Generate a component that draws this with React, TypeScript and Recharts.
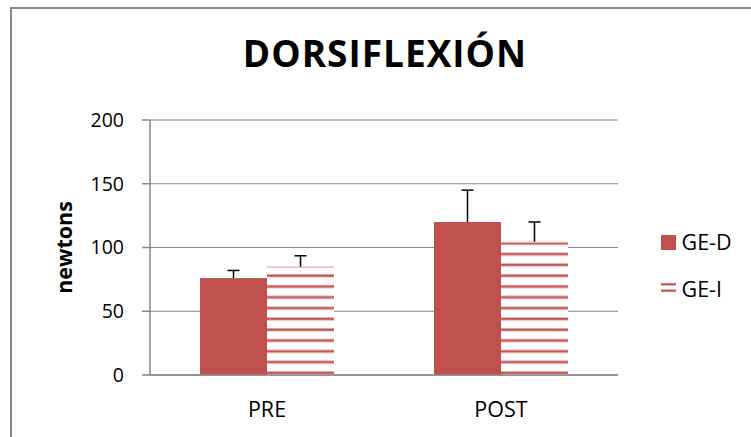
import React from 'react';
import { BarChart, Bar, XAxis, YAxis, CartesianGrid, Legend } from 'recharts';

const categories = ['PRE', 'POST'];
const geD = [76, 120];
const geI = [85, 104.5];
const geDErr = [6, 25];
const geIErr = [8.5, 15.5];
const yTicks = [0, 50, 100, 150, 200];
const seriesNames = ['GE-D', 'GE-I'];

const RED = '#C0504D';
const PALE = '#E6B5B4';
const GRAY = '#868686';
const FONT = "'Open Sans', sans-serif";

const data = categories.map((c, i) => ({
  cat: c,
  geD: geD[i],
  geI: geI[i],
  geDErr: geDErr[i],
  geIErr: geIErr[i],
}));

const makeShape = (fill: string, errKey: string, topEdge?: string) => (props: any) => {
  const { x, y, width, height, value, payload } = props;
  const v = Array.isArray(value) ? value[1] - value[0] : value;
  const ppu = v ? height / v : 0;
  const errTop = y - payload[errKey] * ppu;
  const cx = x + width / 2;
  return (
    <g>
      <rect x={x} y={y} width={width} height={height} fill={fill} />
      {topEdge ? <rect x={x} y={y} width={width} height={1.2} fill={topEdge} /> : null}
      <line x1={cx} x2={cx} y1={y} y2={errTop} stroke="#000" strokeWidth={1.5} />
      <line x1={cx - 6} x2={cx + 6} y1={errTop} y2={errTop} stroke="#000" strokeWidth={1.5} />
    </g>
  );
};

const LegendContent = () => (
  <svg width={100} height={80} style={{ display: 'block' }}>
    <rect x={11} y={10} width={15} height={15} fill={RED} />
    <text x={31.5} y={25} fontFamily={FONT} fontSize={21.5} fill="#000">{seriesNames[0]}</text>
    <rect x={11} y={57.8} width={15} height={3} fill={PALE} />
    <rect x={11} y={58.5} width={15} height={1.6} fill={RED} />
    <rect x={11} y={64.2} width={15} height={3} fill={PALE} />
    <rect x={11} y={64.9} width={15} height={1.6} fill={RED} />
    <text x={31.5} y={72.3} fontFamily={FONT} fontSize={21.5} fill="#000">{seriesNames[1]}</text>
  </svg>
);

export default function App() {
  return (
    <div style={{ position: 'absolute', left: 0, top: 0, width: 751, height: 437, overflow: 'hidden', background: '#fff' }}>
      <div style={{ position: 'absolute', left: 10, top: 7, width: 900, height: 600, border: `2px solid ${GRAY}` }} />
      <div
        style={{
          position: 'absolute', left: 0, top: 0, width: 770, textAlign: 'center',
          fontFamily: FONT, fontWeight: 700, fontSize: 37, lineHeight: '37px', paddingTop: 34,
          letterSpacing: 1, color: '#000',
        }}
      >
        DORSIFLEXIÓN
      </div>
      <div style={{ position: 'absolute', left: 0, top: 0 }}>
        <BarChart
          width={751}
          height={437}
          data={data}
          margin={{ top: 120, right: 33, bottom: 22, left: 90 }}
          barGap={0}
          barSize={67}
        >
          <defs>
            <pattern id="hatch" patternUnits="userSpaceOnUse" x={0} y={0} width={10} height={10.8}>
              <rect x={0} y={0} width={10} height={10.8} fill="#fff" />
              <rect x={0} y={3.9} width={10} height={3.6} fill={PALE} />
              <rect x={0} y={4.8} width={10} height={1.8} fill={RED} />
            </pattern>
          </defs>
          <CartesianGrid vertical={false} stroke={GRAY} strokeWidth={1} />
          <XAxis
            dataKey="cat"
            height={40}
            axisLine={{ stroke: GRAY, strokeWidth: 1.5 }}
            tickLine={false}
            tickSize={0}
            tickMargin={26.5}
            tick={{ fill: '#000', fontFamily: FONT, fontSize: 21.5 }}
          />
          <YAxis
            width={60}
            domain={[0, 200]}
            ticks={yTicks}
            interval={0}
            axisLine={{ stroke: GRAY, strokeWidth: 1.5 }}
            tickLine={{ stroke: GRAY, strokeWidth: 1.5 }}
            tickSize={8}
            tickMargin={18}
            tick={{ fill: '#000', fontFamily: FONT, fontSize: 19.5 }}
            label={{
              content: () => (
                <text
                  transform="translate(71.5,247.5) rotate(-90)"
                  textAnchor="middle"
                  fontFamily={FONT}
                  fontWeight={700}
                  fontSize={21.5}
                  fill="#000"
                >
                  newtons
                </text>
              ),
            }}
          />
          <Legend
            layout="horizontal"
            verticalAlign="middle"
            align="right"
            content={<LegendContent />}
            wrapperStyle={{ left: 650, top: 225, width: 100, height: 80 }}
          />
          <Bar dataKey="geD" name={seriesNames[0]} fill={RED} isAnimationActive={false} shape={makeShape(RED, 'geDErr')} />
          <Bar dataKey="geI" name={seriesNames[1]} fill="url(#hatch)" isAnimationActive={false} shape={makeShape('url(#hatch)', 'geIErr', PALE)} />
        </BarChart>
      </div>
    </div>
  );
}
